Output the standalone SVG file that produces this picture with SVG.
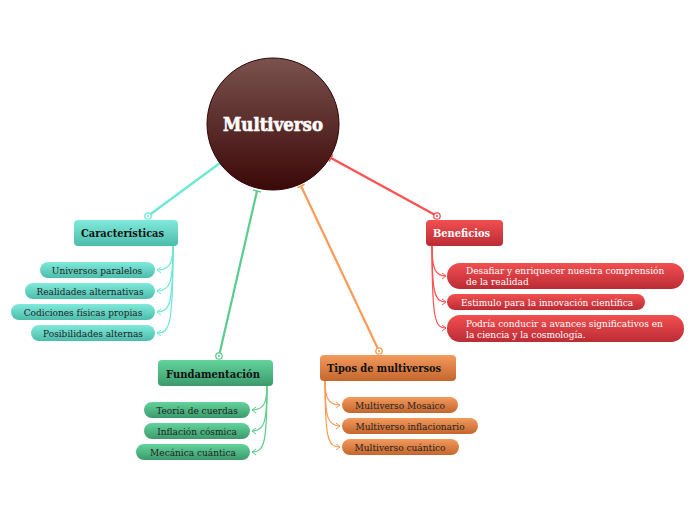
<svg xmlns="http://www.w3.org/2000/svg" width="696" height="520" viewBox="0 0 696 520">
<defs>
<linearGradient id="gc" x1="0" y1="0" x2="0" y2="1"><stop offset="0" stop-color="#7a524e"/><stop offset="1" stop-color="#3b0808"/></linearGradient>
<linearGradient id="gt" x1="0" y1="0" x2="0" y2="1"><stop offset="0" stop-color="#80eadb"/><stop offset="1" stop-color="#4cbcab"/></linearGradient>
<linearGradient id="gg" x1="0" y1="0" x2="0" y2="1"><stop offset="0" stop-color="#62d49b"/><stop offset="1" stop-color="#3c9a6c"/></linearGradient>
<linearGradient id="go" x1="0" y1="0" x2="0" y2="1"><stop offset="0" stop-color="#f39a5e"/><stop offset="1" stop-color="#c4662d"/></linearGradient>
<linearGradient id="gr" x1="0" y1="0" x2="0" y2="1"><stop offset="0" stop-color="#f24f50"/><stop offset="1" stop-color="#bb2c35"/></linearGradient>
<marker id="tt" viewBox="-1 -5 4 10" refX="0" refY="0" markerWidth="4" markerHeight="10" markerUnits="userSpaceOnUse" orient="auto"><path d="M0,-4 L0,4" stroke="context-stroke" stroke-width="1.5" fill="none"/></marker>
<marker id="ta" viewBox="-5 -4 6 8" refX="0" refY="0" markerWidth="6" markerHeight="8" markerUnits="userSpaceOnUse" orient="auto"><path d="M-4,-3 L0,0 L-4,3" stroke="context-stroke" stroke-width="1" fill="none"/></marker>
</defs>
<style>
.sub{font-family:"DejaVu Serif","Liberation Serif",serif;font-size:9px;fill:#222;text-anchor:middle}
.subw{font-family:"DejaVu Serif","Liberation Serif",serif;font-size:9px;fill:#fff}
.main{font-family:"DejaVu Serif","Liberation Serif",serif;font-size:11px;font-weight:bold;fill:#111}
.con{fill:none;stroke-width:2.2}
.sc{fill:none;stroke-width:1.2}
.dot{fill:#fff;stroke-width:1.3}
</style>

<g id="connectors">
<path class="con" d="M148,216 L220,163" stroke="#6ae8d3" marker-end="url(#tt)"/>
<path class="con" d="M219,356 L257,191" stroke="#5bcc8e" marker-end="url(#tt)"/>
<path class="con" d="M379,351 L301,186" stroke="#ff9a55" marker-end="url(#tt)"/>
<path class="con" d="M437,216 L331,158" stroke="#ff4f4f" marker-end="url(#tt)"/>
<circle class="dot" cx="148" cy="216" r="3.2" stroke="#6ae8d3"/><circle cx="148" cy="216" r="1.1" fill="#6ae8d3"/>
<circle class="dot" cx="219" cy="356" r="3.2" stroke="#5bcc8e"/><circle cx="219" cy="356" r="1.1" fill="#5bcc8e"/>
<circle class="dot" cx="379" cy="351" r="3.2" stroke="#ff9a55"/><circle cx="379" cy="351" r="1.1" fill="#ff9a55"/>
<circle class="dot" cx="437" cy="216" r="3.2" stroke="#ff4f4f"/><circle cx="437" cy="216" r="1.1" fill="#ff4f4f"/>
<g stroke="#6ae8d3">
<path class="sc" d="M173,246 C173,262 170,270 157,270" marker-end="url(#ta)"/>
<path class="sc" d="M173,246 C173,283 170,291 157,291" marker-end="url(#ta)"/>
<path class="sc" d="M173,246 C173,304 170,312 157,312" marker-end="url(#ta)"/>
<path class="sc" d="M173,246 C173,325 170,333 157,333" marker-end="url(#ta)"/>
</g>
<g stroke="#5bcc8e">
<path class="sc" d="M267,386 C267,402 264,410 252,410" marker-end="url(#ta)"/>
<path class="sc" d="M267,386 C267,423 264,431 252,431" marker-end="url(#ta)"/>
<path class="sc" d="M267,386 C267,444 264,452 252,452" marker-end="url(#ta)"/>
</g>
<g stroke="#ff9a55">
<path class="sc" d="M325,381 C325,397 328,405 340,405" marker-end="url(#ta)"/>
<path class="sc" d="M325,381 C325,418 328,426 340,426" marker-end="url(#ta)"/>
<path class="sc" d="M325,381 C325,439 328,447 340,447" marker-end="url(#ta)"/>
</g>
<g stroke="#ff4f4f">
<path class="sc" d="M432,246 C432,268 435,276 446,276" marker-end="url(#ta)"/>
<path class="sc" d="M432,246 C432,294 435,302 446,302" marker-end="url(#ta)"/>
<path class="sc" d="M432,246 C432,320 435,328 446,328" marker-end="url(#ta)"/>
</g>
</g>

<g id="multiverso">
<circle cx="273" cy="124" r="66" fill="url(#gc)" stroke="#2e0606" stroke-width="1"/>
<text x="273" y="131" text-anchor="middle" font-family="DejaVu Serif, serif" font-weight="bold" font-size="18" fill="#fff" stroke="#fff" stroke-width="0.6" textLength="100" lengthAdjust="spacingAndGlyphs">Multiverso</text>
</g>

<g id="caracteristicas">
<rect x="74" y="220" width="104" height="26" rx="4" fill="url(#gt)"/>
<text class="main" x="81" y="237" textLength="83" lengthAdjust="spacingAndGlyphs">Características</text>
</g>
<g id="c1"><rect x="40" y="262" width="115" height="16" rx="8" fill="url(#gt)"/><text class="sub" x="97" y="273.5">Universos paralelos</text></g>
<g id="c2"><rect x="25" y="283" width="130" height="16" rx="8" fill="url(#gt)"/><text class="sub" x="90" y="294.5">Realidades alternativas</text></g>
<g id="c3"><rect x="11" y="304" width="144" height="16" rx="8" fill="url(#gt)"/><text class="sub" x="83" y="315.5">Codiciones físicas propias</text></g>
<g id="c4"><rect x="31" y="325" width="124" height="16" rx="8" fill="url(#gt)"/><text class="sub" x="93" y="336.5">Posibilidades alternas</text></g>

<g id="fundamentacion">
<rect x="158" y="360" width="115" height="26" rx="4" fill="url(#gg)"/>
<text class="main" x="166" y="378" textLength="94" lengthAdjust="spacingAndGlyphs">Fundamentación</text>
</g>
<g id="f1"><rect x="144" y="402" width="106" height="16" rx="8" fill="url(#gg)"/><text class="sub" x="197" y="413.5">Teoría de cuerdas</text></g>
<g id="f2"><rect x="144" y="423" width="106" height="16" rx="8" fill="url(#gg)"/><text class="sub" x="197" y="434.5">Inflación cósmica</text></g>
<g id="f3"><rect x="136" y="444" width="114" height="16" rx="8" fill="url(#gg)"/><text class="sub" x="193" y="455.5">Mecánica cuántica</text></g>

<g id="tipos">
<rect x="320" y="355" width="136" height="26" rx="4" fill="url(#go)"/>
<text class="main" x="327" y="372" textLength="114" lengthAdjust="spacingAndGlyphs">Tipos de multiversos</text>
</g>
<g id="t1"><rect x="342" y="397" width="116" height="16" rx="8" fill="url(#go)"/><text class="sub" x="400" y="408.5">Multiverso Mosaico</text></g>
<g id="t2"><rect x="342" y="418" width="136" height="16" rx="8" fill="url(#go)"/><text class="sub" x="410" y="429.5">Multiverso inflacionario</text></g>
<g id="t3"><rect x="342" y="439" width="117" height="16" rx="8" fill="url(#go)"/><text class="sub" x="400" y="450.5">Multiverso cuántico</text></g>

<g id="beneficios">
<rect x="426" y="220" width="77" height="26" rx="4" fill="url(#gr)"/>
<text class="main" x="433" y="237" style="fill:#fff" textLength="57" lengthAdjust="spacingAndGlyphs">Beneficios</text>
</g>
<g id="b1"><rect x="447" y="263" width="237" height="26" rx="13" fill="url(#gr)"/><text class="subw" x="466" y="274">Desafiar y enriquecer nuestra comprensión</text><text class="subw" x="466" y="285">de la realidad</text></g>
<g id="b2"><rect x="447" y="294" width="198" height="16" rx="8" fill="url(#gr)"/><text class="subw" x="461" y="305.5">Estimulo para la innovación científica</text></g>
<g id="b3"><rect x="447" y="315" width="237" height="27" rx="13" fill="url(#gr)"/><text class="subw" x="466" y="327">Podría conducir a avances significativos en</text><text class="subw" x="466" y="338">la ciencia y la cosmología.</text></g>
</svg>
